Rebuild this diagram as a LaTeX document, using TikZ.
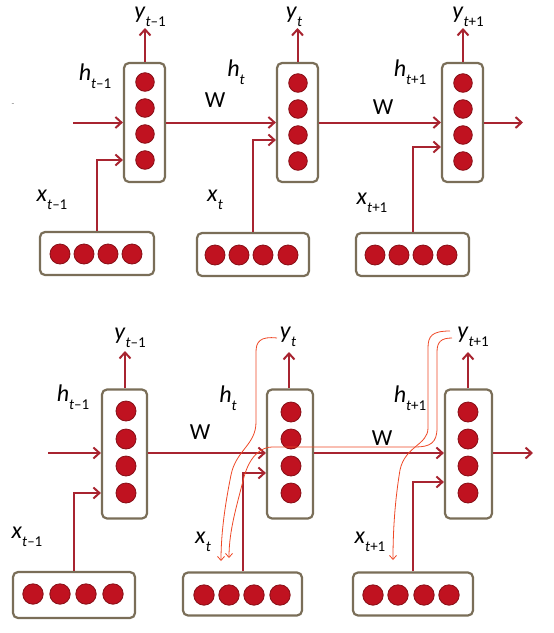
\documentclass[tikz,border=0pt]{standalone}
\usepackage{fontspec}
\setmainfont{Carlito}
\usetikzlibrary{arrows.meta}

\definecolor{arrowred}{RGB}{168,36,48}
\definecolor{unitred}{RGB}{192,18,32}
\definecolor{unitedge}{RGB}{135,14,22}
\definecolor{boxgray}{RGB}{122,110,88}
\definecolor{bpttorange}{RGB}{238,72,38}

% variable with subscript, e.g. \rnnvar{h}{\textit{t}+1}
\newcommand{\rnnvar}[2]{\textit{#1}\raisebox{-0.32em}{\fontsize{15}{17}\selectfont #2}}

\tikzset{
  rnn/.style={draw=arrowred, line width=2pt, -{Straight Barb[length=6pt,width=11pt]}},
  hbox/.style={draw=boxgray, line width=2.2pt, rounded corners=5pt, fill=white, inner sep=0pt},
  unit/.style={fill=unitred, draw=unitedge, line width=0.8pt},
  lbl/.style={font=\fontsize{24}{28}\selectfont, inner sep=0pt},
  wlbl/.style={font=\fontsize{23}{27}\selectfont, inner sep=0pt},
  bptt/.style={draw=bpttorange, line width=0.8pt, -{Straight Barb[length=4pt,width=7pt]}}
}

\begin{document}
\begin{tikzpicture}[x=1pt,y=-1pt]
\useasboundingbox (0,0) rectangle (554,633);

% top panel: hidden layers
\node[hbox, minimum width=41pt, minimum height=119pt] (h1) at (144.5,122.5) {};
\node[hbox, minimum width=41pt, minimum height=119pt] (h2) at (297.5,122.5) {};
\node[hbox, minimum width=41pt, minimum height=119pt] (h3) at (462.5,122.5) {};
\foreach \cy in {82,108,134,160} \filldraw[unit] (145,\cy) circle (9.3);
\foreach \cy in {83,109,135,161} \filldraw[unit] (298,\cy) circle (9.3);
\foreach \cy in {83,109,135,161} \filldraw[unit] (463,\cy) circle (9.3);

% top panel: inputs
\node[hbox, minimum width=114pt, minimum height=43pt] (in1) at (97,253.5) {};
\node[hbox, minimum width=112pt, minimum height=43pt] (in2) at (253,254.5) {};
\node[hbox, minimum width=113pt, minimum height=43pt] (in3) at (412.5,254.5) {};
\foreach \cx in {60,84,108,132} \filldraw[unit] (\cx,254) circle (10);
\foreach \cx in {215,239,263,288} \filldraw[unit] (\cx,255) circle (10);
\foreach \cx in {375,399,423,447} \filldraw[unit] (\cx,255) circle (10);

\node[lbl] (ylab1) at (150,17) {\rnnvar{y}{\textit{t}–1}};
\node[lbl] (ylab2) at (294,17) {\rnnvar{y}{\textit{t}}};
\node[lbl] (ylab3) at (468,17) {\rnnvar{y}{\textit{t}+1}};
\node[lbl] (hlab1) at (95,76) {\rnnvar{h}{\textit{t}–1}};
\node[lbl] (hlab2) at (236,72) {\rnnvar{h}{\textit{t}}};
\node[lbl] (hlab3) at (410,72) {\rnnvar{h}{\textit{t}+1}};
\node[lbl] (xlab1) at (52,200) {\rnnvar{x}{\textit{t}–1}};
\node[lbl] (xlab2) at (215,200) {\rnnvar{x}{\textit{t}}};
\node[lbl] (xlab3) at (372,203) {\rnnvar{x}{\textit{t}+1}};
\node[wlbl] (wlab1) at (215,100) {W};
\node[wlbl] (wlab2) at (383,107) {W};
\node[font=\small, text=gray] (dash) at (13,105) {-};

\coordinate (yout1) at (145,28);
\coordinate (yout2) at (297.5,28);
\coordinate (yout3) at (463,28);
\coordinate (hin) at (73,122.5);
\coordinate (hout) at (523,122.5);

\draw[rnn] (h1.north -| yout1) -- (yout1);
\draw[rnn] (h2.north) -- (yout2);
\draw[rnn] (h3.north -| yout3) -- (yout3);
\draw[rnn] (hin) -- (h1.west);
\draw[rnn] (h1.east) -- (h2.west);
\draw[rnn] (h2.east) -- (h3.west);
\draw[rnn] (h3.east) -- (hout);
\draw[rnn] (in1.north) |- (h1.west |- 0,160);
\draw[rnn] (in2.north) |- (h2.west |- 0,140);
\draw[rnn] (in3.north) |- (h3.west |- 0,147);

% bottom panel: hidden layers
\node[hbox, minimum width=45pt, minimum height=129pt] (hb1) at (124.5,454) {};
\node[hbox, minimum width=46pt, minimum height=129pt] (hb2) at (290,454) {};
\node[hbox, minimum width=47pt, minimum height=129pt] (hb3) at (468.5,454) {};
\foreach \cy in {411,439,466,493} \filldraw[unit] (126,\cy) circle (10);
\foreach \cy in {412,439,466,493} \filldraw[unit] (291,\cy) circle (10);
\foreach \cy in {412,439,466,493} \filldraw[unit] (468,\cy) circle (10);

% bottom panel: inputs
\node[hbox, minimum width=122pt, minimum height=46pt] (inb1) at (74,595) {};
\node[hbox, minimum width=119pt, minimum height=43pt] (inb2) at (242.5,594) {};
\node[hbox, minimum width=120pt, minimum height=43pt] (inb3) at (413,594) {};
\foreach \cx in {33,60,86,113} \filldraw[unit] (\cx,594) circle (10.2);
\foreach \cx in {204,229,254,280} \filldraw[unit] (\cx,595) circle (10.2);
\foreach \cx in {373,398,424,449} \filldraw[unit] (\cx,595) circle (10.2);

\node[lbl] (ylabb1) at (130,338) {\rnnvar{y}{\textit{t}–1}};
\node[lbl] (ylabb2) at (288,337) {\rnnvar{y}{\textit{t}}};
\node[lbl] (ylabb3) at (473,337) {\rnnvar{y}{\textit{t}+1}};
\node[lbl] (hlabb1) at (73,397) {\rnnvar{h}{\textit{t}–1}};
\node[lbl] (hlabb2) at (228,398) {\rnnvar{h}{\textit{t}}};
\node[lbl] (hlabb3) at (410,398) {\rnnvar{h}{\textit{t}+1}};
\node[lbl] (xlabb1) at (27,537) {\rnnvar{x}{\textit{t}–1}};
\node[lbl] (xlabb2) at (203,542) {\rnnvar{x}{\textit{t}}};
\node[lbl] (xlabb3) at (370,542) {\rnnvar{x}{\textit{t}+1}};
\node[wlbl] (wlabb1) at (200,432) {W};
\node[wlbl] (wlabb2) at (382,438) {W};

\coordinate (youtb1) at (125,351);
\coordinate (youtb2) at (289,352);
\coordinate (youtb3) at (468,352);
\coordinate (hinb) at (48,453);
\coordinate (houtb) at (533,453);

\draw[rnn] (hb1.north -| youtb1) -- (youtb1);
\draw[rnn] (hb2.north -| youtb2) -- (youtb2);
\draw[rnn] (hb3.north -| youtb3) -- (youtb3);
\draw[rnn] (hinb) -- (hb1.west |- hinb);
\draw[rnn] (hb1.east |- hinb) -- (hb2.west |- hinb);
\draw[rnn] (hb2.east |- hinb) -- (hb3.west |- hinb);
\draw[rnn] (hb3.east |- hinb) -- (houtb);
\draw[rnn] (inb1.north) |- (hb1.west |- 0,493);
\draw[rnn] (inb2.north) |- (hb2.west |- 0,473);
\draw[rnn] (inb3.north) |- (hb3.west |- 0,482);

% hand drawn gradient paths
\coordinate (bpA0) at (277,338);
\coordinate (bpA1) at (221,561);
\coordinate (bpC0) at (450,331);
\coordinate (bpC1) at (393,560);
\coordinate (bpD0) at (452,338);
\coordinate (bpD1) at (229,558);
\draw[bptt] (bpA0) .. controls (260,336) and (256,342) .. (256,352) -- (256,422) .. controls (256,445) and (236,450) .. (231,475) .. controls (226,500) and (221,530) .. (bpA1);
\draw[bptt] (bpC0) .. controls (432,331) and (428,336) .. (428,348) -- (428,428) .. controls (428,445) and (405,446) .. (400,470) .. controls (395,500) and (393,530) .. (bpC1);
\draw[bptt] (bpD0) .. controls (441,338) and (437,342) .. (437,352) -- (437,428) .. controls (437,443) and (430,447) .. (415,447) -- (272,447) .. controls (262,447) and (250,455) .. (244,477) .. controls (237,505) and (229,530) .. (bpD1);
\end{tikzpicture}
\end{document}
